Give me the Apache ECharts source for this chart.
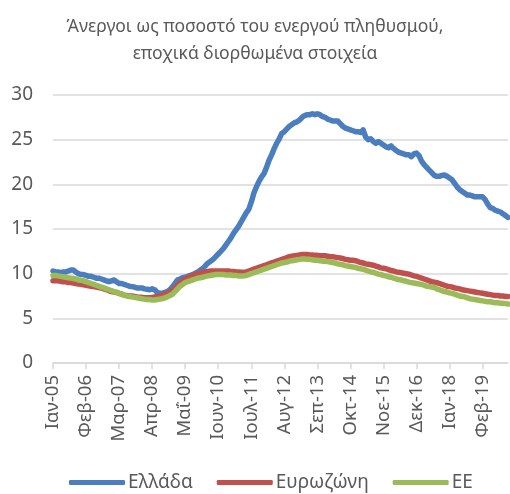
<!DOCTYPE html>
<html>
<head>
<meta charset="utf-8">
<script src="https://cdn.jsdelivr.net/npm/echarts@6/dist/echarts.min.js"></script>
<style>
html,body{margin:0;padding:0;background:#fff;}
#chart{width:510px;height:494px;}
</style>
</head>
<body>
<div id="chart"></div>
<script>
// Άνεργοι ως ποσοστό του ενεργού πληθυσμού, μηνιαία 2005-2019

var MONTHS = ['Ιαν','Φεβ','Μαρ','Απρ','Μαΐ','Ιουν','Ιουλ','Αυγ','Σεπ','Οκτ','Νοε','Δεκ'];
var YEARS = ['05','06','07','08','09','10','11','12','13','14','15','16','17','18','19'];

var greece = [
  10.3,10.2,10.2,10.1,10.2,10.2,10.3,10.4,10.4,10.2,10.0,9.9,
  9.9,9.8,9.7,9.7,9.6,9.5,9.5,9.4,9.3,9.2,9.1,9.2,
  9.3,9.1,8.9,8.9,8.8,8.7,8.6,8.55,8.5,8.4,8.4,8.4,
  8.3,8.25,8.2,8.3,8.2,7.9,7.8,7.8,7.9,8.0,8.2,8.55,
  8.9,9.3,9.4,9.55,9.6,9.7,9.8,9.9,10.05,10.2,10.4,10.6,
  10.9,11.2,11.4,11.6,11.9,12.2,12.5,12.8,13.2,13.6,14.0,14.5,
  14.9,15.3,15.8,16.3,16.8,17.2,18.0,19.0,19.7,20.3,20.8,21.2,
  21.9,22.7,23.3,24.0,24.6,25.1,25.7,25.9,26.2,26.5,26.7,26.9,
  27.0,27.2,27.5,27.7,27.8,27.8,27.9,27.8,27.9,27.8,27.6,27.5,
  27.3,27.2,27.1,27.1,27.1,26.8,26.5,26.3,26.2,26.1,26.0,25.9,
  25.9,25.8,26.1,25.3,25.0,25.1,24.8,24.6,24.8,24.6,24.4,24.2,
  24.1,24.3,24.0,23.8,23.6,23.5,23.4,23.3,23.3,23.1,23.4,23.5,
  23.2,22.6,22.2,21.9,21.6,21.3,21.0,20.9,20.9,21.0,21.05,20.9,
  20.7,20.5,20.1,19.7,19.4,19.2,19.0,18.8,18.8,18.7,18.6,18.6,
  18.6,18.6,18.3,17.8,17.4,17.3,17.1,17.0,16.9,16.7,16.5,16.3
];

var eurozone = [
  9.2,9.2,9.2,9.15,9.1,9.1,9.0,9.0,8.95,8.9,8.85,8.8,
  8.75,8.7,8.65,8.6,8.55,8.5,8.45,8.4,8.3,8.2,8.1,8.0,
  7.95,7.9,7.8,7.7,7.6,7.55,7.5,7.5,7.45,7.4,7.35,7.35,
  7.3,7.3,7.3,7.35,7.4,7.45,7.5,7.6,7.7,7.8,7.95,8.1,
  8.4,8.7,9.0,9.2,9.4,9.55,9.7,9.8,9.9,10.0,10.1,10.15,
  10.2,10.25,10.3,10.3,10.3,10.3,10.3,10.3,10.3,10.3,10.25,10.25,
  10.2,10.2,10.15,10.15,10.2,10.3,10.4,10.5,10.6,10.7,10.8,10.9,
  11.0,11.1,11.2,11.3,11.4,11.5,11.6,11.7,11.8,11.9,11.95,12.0,
  12.05,12.1,12.15,12.15,12.15,12.1,12.1,12.05,12.05,12.0,12.0,12.0,
  11.95,11.9,11.9,11.85,11.8,11.75,11.7,11.6,11.55,11.5,11.5,11.45,
  11.35,11.25,11.2,11.1,11.05,11.0,10.95,10.85,10.75,10.65,10.6,10.55,
  10.45,10.35,10.3,10.2,10.15,10.1,10.05,10.0,9.95,9.85,9.75,9.7,
  9.6,9.5,9.4,9.3,9.2,9.1,9.05,9.0,8.9,8.8,8.7,8.6,
  8.55,8.5,8.4,8.35,8.3,8.2,8.15,8.1,8.05,8.0,7.95,7.9,
  7.85,7.8,7.75,7.7,7.65,7.6,7.55,7.55,7.5,7.5,7.45,7.45
];

var eu = [
  9.8,9.8,9.75,9.7,9.65,9.6,9.55,9.5,9.45,9.4,9.3,9.25,
  9.2,9.1,9.0,8.9,8.8,8.7,8.6,8.5,8.4,8.3,8.2,8.1,
  8.0,7.9,7.8,7.7,7.6,7.5,7.45,7.4,7.35,7.3,7.25,7.2,
  7.15,7.1,7.1,7.05,7.05,7.1,7.15,7.2,7.3,7.4,7.55,7.7,
  8.0,8.3,8.6,8.8,9.0,9.1,9.2,9.3,9.4,9.5,9.55,9.6,
  9.7,9.75,9.8,9.85,9.9,9.9,9.9,9.9,9.85,9.85,9.85,9.8,
  9.8,9.75,9.75,9.75,9.8,9.9,10.0,10.1,10.2,10.3,10.4,10.5,
  10.6,10.7,10.8,10.9,11.0,11.1,11.2,11.25,11.3,11.4,11.45,11.5,
  11.55,11.6,11.65,11.65,11.6,11.6,11.55,11.5,11.5,11.45,11.4,11.4,
  11.35,11.3,11.25,11.2,11.1,11.05,11.0,10.9,10.85,10.8,10.75,10.7,
  10.6,10.55,10.5,10.4,10.3,10.2,10.15,10.05,9.95,9.9,9.8,9.75,
  9.65,9.6,9.5,9.4,9.35,9.3,9.2,9.15,9.05,9.0,8.95,8.9,
  8.85,8.8,8.7,8.6,8.55,8.5,8.45,8.3,8.2,8.1,8.0,7.95,
  7.85,7.8,7.7,7.6,7.5,7.45,7.4,7.3,7.2,7.15,7.1,7.05,
  7.0,6.95,6.9,6.85,6.85,6.8,6.75,6.75,6.7,6.7,6.65,6.6
];

var categories = [];
YEARS.forEach(function(y){ MONTHS.forEach(function(m){ categories.push(m + '-' + y); }); });

var FONT = '"Noto Sans", sans-serif';
var GREY = '#595959';

var chart = echarts.init(document.getElementById('chart'), null, {renderer:'canvas'});

function mkLine(name, data, color){
  return {
    name:name, type:'line', data:data, symbol:'none', smooth:false,
    lineStyle:{color:color, width:5.5, cap:'round', join:'round'},
    itemStyle:{color:color},
    animation:false
  };
}

chart.setOption({
  backgroundColor:'#fff',
  animation:false,
  title:{
    text:'Άνεργοι ως ποσοστό του ενεργού πληθυσμού,\nεποχικά διορθωμένα στοιχεία',
    left:'center', top:9,
    textStyle:{fontFamily:FONT, fontSize:17.5, fontWeight:'normal', color:GREY, lineHeight:27}
  },
  legend:{
    left:64, top:468, itemGap:24, itemWidth:56, itemHeight:5, icon:'roundRect',
    textStyle:{fontFamily:FONT, fontSize:19, color:GREY, padding:[0,0,0,-2]},
    data:['Ελλάδα','Ευρωζώνη','ΕΕ']
  },
  grid:{left:53, right:2, top:95, bottom:131, containLabel:false},
  xAxis:{
    type:'category', data:categories, boundaryGap:false,
    axisLine:{lineStyle:{color:'#d9d9d9', width:1.5}},
    axisTick:{show:true, interval:12, length:6, lineStyle:{color:'#d9d9d9', width:1.5}},
    axisLabel:{interval:12, rotate:90, margin:12, fontFamily:FONT, fontSize:18.5, color:GREY},
    splitLine:{show:false}
  },
  yAxis:{
    type:'value', min:0, max:30, interval:5,
    axisLine:{show:false}, axisTick:{show:false},
    axisLabel:{margin:20, fontFamily:FONT, fontSize:19, color:GREY},
    splitLine:{lineStyle:{color:'#d9d9d9', width:1.5}}
  },
  series:[
    mkLine('Ελλάδα', greece, '#4A7EBF'),
    mkLine('Ευρωζώνη', eurozone, '#C0504D'),
    mkLine('ΕΕ', eu, '#9BBB59')
  ]
});
</script>
</body>
</html>
